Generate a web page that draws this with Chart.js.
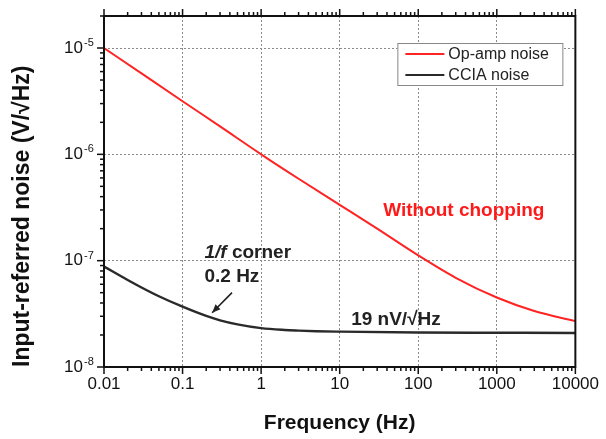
<!DOCTYPE html>
<html>
<head>
<meta charset="utf-8">
<script src="https://cdn.jsdelivr.net/npm/chart.js@4.4.0/dist/chart.umd.min.js"></script>
<style>
  html, body { margin: 0; padding: 0; background: #fff; }
</style>
</head>
<body>
<canvas id="myChart" width="606" height="439"></canvas>
<script>
'use strict';

// frequency points (Hz) and input-referred noise (V/sqrt(Hz))
const opampFreqs = [0.01, 0.03, 0.1, 0.3, 1, 3, 10, 30, 100, 300, 1000, 3000, 10000];
const opampNoise = [1.0e-5, 5.77e-6, 3.16e-6, 1.83e-6, 1.0e-6, 5.89e-7, 3.35e-7, 2.0e-7, 1.12e-7, 6.9e-8, 4.5e-8, 3.36e-8, 2.7e-8];
const cciaFreqs = [0.01, 0.02, 0.03, 0.05, 0.1, 0.2, 0.3, 0.5, 1, 2, 3, 5, 10, 100, 1000, 10000];
const cciaNoise = [8.8e-8, 6.58e-8, 5.6e-8, 4.63e-8, 3.69e-8, 3.02e-8, 2.75e-8, 2.52e-8, 2.32e-8, 2.23e-8, 2.2e-8, 2.17e-8, 2.15e-8, 2.11e-8, 2.1e-8, 2.09e-8];
const seriesNames = ['Op-amp noise', 'CCIA noise'];

const xTickLabels = ['0.01', '0.1', '1', '10', '100', '1000', '10000'];
const yTickExponents = ['-8', '-7', '-6', '-5'];

const FONT = "'Liberation Sans', Arial, Helvetica, sans-serif";

function decadeOf(v) {
  const l = Math.log10(v);
  const r = Math.round(l);
  return Math.abs(l - r) < 1e-6 ? r : null;
}

function toPoints(xs, ys) {
  return xs.map((f, i) => ({ x: f, y: ys[i] }));
}

function line(ctx, x1, y1, x2, y2) {
  ctx.beginPath();
  ctx.moveTo(x1, y1);
  ctx.lineTo(x2, y2);
  ctx.stroke();
}

// frame, outward tick marks, exponents, legend box and the text notes
const decorations = {
  id: 'decorations',
  afterDatasetsDraw(chart) {
    const { ctx, chartArea: a, scales: { x, y } } = chart;
    ctx.save();

    ctx.strokeStyle = '#111';
    ctx.lineWidth = 1.5;
    for (let d = -2; d <= 4; d++) {
      for (let k = 1; k <= 9; k++) {
        const v = k * Math.pow(10, d);
        if (v < x.min * 0.999 || v > x.max * 1.001) continue;
        const px = x.getPixelForValue(v);
        const len = k === 1 ? 7 : 4;
        line(ctx, px, a.bottom, px, a.bottom + len);
        line(ctx, px, a.top, px, a.top - len);
      }
    }
    for (let d = -8; d <= -5; d++) {
      for (let k = 1; k <= 9; k++) {
        const v = k * Math.pow(10, d);
        if (v < y.min * 0.999 || v > y.max * 1.001) continue;
        const py = y.getPixelForValue(v);
        const len = k === 1 ? 7 : 4;
        line(ctx, a.left - len, py, a.left, py);
      }
    }

    ctx.lineWidth = 2;
    ctx.strokeRect(a.left, a.top, a.right - a.left, a.bottom - a.top);

    // exponents of the y tick labels
    ctx.fillStyle = '#111';
    ctx.font = '11px ' + FONT;
    ctx.textAlign = 'left';
    ctx.textBaseline = 'alphabetic';
    yTickExponents.forEach((e, i) => {
      const py = y.getPixelForValue(Math.pow(10, i - 8));
      ctx.fillText(e, a.left - 20, py - 2);
    });

    // legend
    const lx = a.right - 178, ly = a.top + 27, lw = 165, lh = 42;
    ctx.fillStyle = '#fff';
    ctx.fillRect(lx, ly, lw, lh);
    ctx.strokeStyle = '#888';
    ctx.lineWidth = 1;
    ctx.strokeRect(lx + 0.5, ly + 0.5, lw, lh);
    ctx.font = '16px ' + FONT;
    ctx.textBaseline = 'middle';
    chart.data.datasets.forEach((ds, i) => {
      const ry = ly + 11 + i * 21;
      ctx.strokeStyle = ds.borderColor;
      ctx.lineWidth = 2;
      line(ctx, lx + 8, ry, lx + 47, ry);
      ctx.fillStyle = '#222';
      ctx.fillText(ds.label, lx + 51, ry + 1);
    });

    // notes
    ctx.fillStyle = '#ff1a1a';
    ctx.font = 'bold 19px ' + FONT;
    ctx.textAlign = 'center';
    ctx.fillText('Without chopping', x.getPixelForValue(380), y.getPixelForValue(2.95e-7));

    ctx.fillStyle = '#222';
    ctx.textAlign = 'left';
    const cx = x.getPixelForValue(0.19);
    const cy = y.getPixelForValue(1.19e-7);
    ctx.font = 'italic bold 19px ' + FONT;
    ctx.fillText('1/f', cx, cy);
    const w = ctx.measureText('1/f').width;
    ctx.font = 'bold 19px ' + FONT;
    ctx.fillText(' corner', cx + w, cy);
    ctx.fillText('0.2 Hz', cx, y.getPixelForValue(7.06e-8));
    ctx.fillText('19 nV/√Hz', x.getPixelForValue(14), y.getPixelForValue(2.77e-8));

    // arrow to the corner
    const x1 = x.getPixelForValue(0.426), y1 = y.getPixelForValue(5.0e-8);
    const x2 = x.getPixelForValue(0.238), y2 = y.getPixelForValue(3.24e-8);
    ctx.strokeStyle = '#222';
    ctx.lineWidth = 1.6;
    line(ctx, x1, y1, x2, y2);
    const ang = Math.atan2(y2 - y1, x2 - x1);
    ctx.beginPath();
    ctx.moveTo(x2, y2);
    ctx.lineTo(x2 - 9 * Math.cos(ang - 0.4), y2 - 9 * Math.sin(ang - 0.4));
    ctx.lineTo(x2 - 9 * Math.cos(ang + 0.4), y2 - 9 * Math.sin(ang + 0.4));
    ctx.closePath();
    ctx.fill();

    ctx.restore();
  }
};

const ctx = document.getElementById('myChart');

const gridColor = (c) => (decadeOf(c.tick.value) !== null ? '#8a8a8a' : 'rgba(0,0,0,0)');

let chartObj = {
  type: 'line',
  data: {
    datasets: [
      {
        label: seriesNames[0],
        data: toPoints(opampFreqs, opampNoise),
        borderColor: '#ff2424',
        borderWidth: 2,
        pointRadius: 0,
        cubicInterpolationMode: 'monotone'
      },
      {
        label: seriesNames[1],
        data: toPoints(cciaFreqs, cciaNoise),
        borderColor: '#2a2a2a',
        borderWidth: 2.4,
        pointRadius: 0,
        cubicInterpolationMode: 'monotone'
      }
    ]
  },
  options: {
    responsive: false,
    animation: false,
    devicePixelRatio: 1,
    layout: { padding: { left: 0, top: 16, right: 27, bottom: 0 } },
    plugins: {
      legend: { display: false },
      tooltip: { enabled: false }
    },
    scales: {
      x: {
        type: 'logarithmic',
        min: 0.01,
        max: 10000,
        afterFit: (s) => { s.height = 72; },
        grid: { color: gridColor, lineWidth: 1, drawTicks: false },
        border: { display: false, dash: [2, 2] },
        ticks: {
          autoSkip: false,
          maxRotation: 0,
          padding: 7,
          color: '#111',
          font: { family: FONT, size: 17 },
          callback: (v) => {
            const d = decadeOf(v);
            return d === null ? '' : xTickLabels[d + 2];
          }
        },
        title: {
          display: true,
          text: 'Frequency (Hz)',
          color: '#111',
          font: { family: FONT, size: 21, weight: 'bold' },
          padding: { top: 0, bottom: 3 }
        }
      },
      y: {
        type: 'logarithmic',
        min: 1e-8,
        max: 2e-5,
        afterFit: (s) => {
          s.width = 104;
          s.paddingTop = 0;
          s.paddingBottom = 0;
        },
        grid: { color: gridColor, lineWidth: 1, drawTicks: false },
        border: { display: false, dash: [2, 2] },
        ticks: {
          autoSkip: false,
          padding: 21,
          color: '#111',
          font: { family: FONT, size: 17 },
          callback: (v) => (decadeOf(v) === null ? '' : '10')
        },
        title: {
          display: true,
          text: 'Input-referred noise (V/√Hz)',
          align: 'start',
          color: '#111',
          font: { family: FONT, size: 23, weight: 'bold' },
          padding: { top: 9, bottom: 0 }
        }
      }
    }
  },
  plugins: [decorations]
};

new Chart(ctx, chartObj);
</script>
</body>
</html>
